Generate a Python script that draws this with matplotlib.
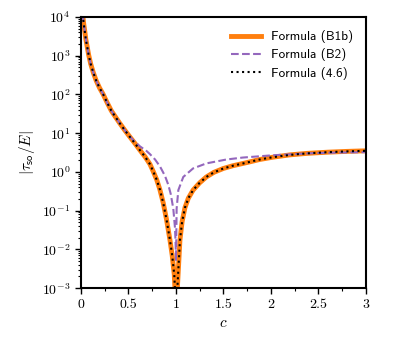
import numpy as np
import matplotlib
matplotlib.use('Agg')
import matplotlib.pyplot as plt
from matplotlib.ticker import LogLocator, MultipleLocator, NullFormatter

plt.rcParams.update({
    'font.family': 'serif',
    'font.serif': ['cmr10'],
    'mathtext.fontset': 'cm',
    'axes.formatter.use_mathtext': True,
    'font.size': 10,
})

# values (log10 of |tau_so/E|)
c_b1b = [0.015, 0.021, 0.03, 0.039, 0.05, 0.066, 0.08, 0.102, 0.13, 0.161, 0.195,
         0.232, 0.275, 0.319, 0.36, 0.41, 0.46, 0.516, 0.57, 0.621, 0.675, 0.726,
         0.761, 0.797, 0.83, 0.866, 0.9, 0.937, 0.96, 0.982, 0.993, 1.0, 1.008,
         1.017, 1.042, 1.065, 1.095, 1.13, 1.18, 1.25, 1.32, 1.4, 1.5, 1.6, 1.744,
         1.88, 2.02, 2.2, 2.376, 2.6, 2.8, 3.0]
b1b_log10 = [4.35, 3.99, 3.80, 3.65, 3.44, 3.22, 3.03, 2.79, 2.56, 2.35, 2.17,
             2.01, 1.79, 1.58, 1.43, 1.25, 1.08, 0.90, 0.73, 0.56, 0.39, 0.20,
             0.01, -0.20, -0.45, -0.80, -1.22, -1.76, -2.15, -2.65, -3.2, -5.0, -3.3,
             -2.9, -1.76, -1.28, -0.92, -0.68, -0.47, -0.28, -0.13, -0.01, 0.09, 0.16, 0.24,
             0.32, 0.38, 0.44, 0.478, 0.51, 0.53, 0.545]

c_b2 = [0.015, 0.021, 0.03, 0.039, 0.05, 0.066, 0.08, 0.102, 0.13, 0.161, 0.195,
        0.232, 0.275, 0.319, 0.36, 0.41, 0.46, 0.516, 0.55, 0.586, 0.621, 0.69,
        0.726, 0.78, 0.832, 0.884, 0.919, 0.945, 0.972, 0.99, 0.997, 1.0, 1.003,
        1.007, 1.025, 1.077, 1.18, 1.32, 1.53, 1.7, 2.02, 2.4, 2.7, 3.0]
b2_log10 = [4.35, 3.99, 3.80, 3.65, 3.44, 3.22, 3.03, 2.79, 2.56, 2.35, 2.17,
            2.01, 1.79, 1.58, 1.43, 1.25, 1.08, 0.91, 0.82, 0.74, 0.66, 0.54,
            0.46, 0.32, 0.14, -0.10, -0.33, -0.57, -0.95, -1.45, -1.9, -2.3, -1.8,
            -0.95, -0.47, -0.13, 0.09, 0.22, 0.32, 0.37, 0.43, 0.48, 0.50, 0.51]

c_46 = list(c_b1b)
f46_log10 = list(b1b_log10)

fig = plt.figure(figsize=(4.07, 3.39), dpi=100)
ax = fig.add_axes([0.199, 0.150, 0.700, 0.800])

ax.plot(c_b1b, 10**np.array(b1b_log10), color='#ff7f0e', lw=3.5,
        label='Formula (B1b)')
ax.plot(c_b2, 10**np.array(b2_log10), color='#9467bd', lw=1.5, ls='--',
        label='Formula (B2)')
ax.plot(c_46, 10**np.array(f46_log10), color='black', lw=1.5, ls=':',
        label='Formula (4.6)')

ax.set_yscale('log')
ax.set_xlim(0, 3)
ax.set_ylim(1e-3, 1e4)
ax.set_xticks([0, 0.5, 1, 1.5, 2, 2.5, 3])
ax.set_xticklabels(['0', '0.5', '1', '1.5', '2', '2.5', '3'])
ax.xaxis.set_minor_locator(MultipleLocator(0.25))
ax.yaxis.set_major_locator(LogLocator(base=10, numticks=20))
ax.yaxis.set_minor_locator(LogLocator(base=10, subs=np.arange(2, 10), numticks=20))
ax.yaxis.set_minor_formatter(NullFormatter())
ax.tick_params(which='major', length=4, width=1)
ax.tick_params(which='minor', length=2, width=0.8)
for axis in ['top', 'bottom', 'left', 'right']:
    ax.spines[axis].set_linewidth(1.5)

ax.set_xlabel(r'$c$', fontsize=11)
ax.set_ylabel(r'$|\tau_{\mathsf{so}}/E|$', fontsize=11)
ax.legend(loc='upper right', frameon=False, handlelength=2.3,
          handletextpad=0.7, labelspacing=0.4, borderaxespad=0.6,
          prop={'family': 'cmss10', 'size': 9.5})

plt.savefig('out.png', dpi=100)
plt.close()
